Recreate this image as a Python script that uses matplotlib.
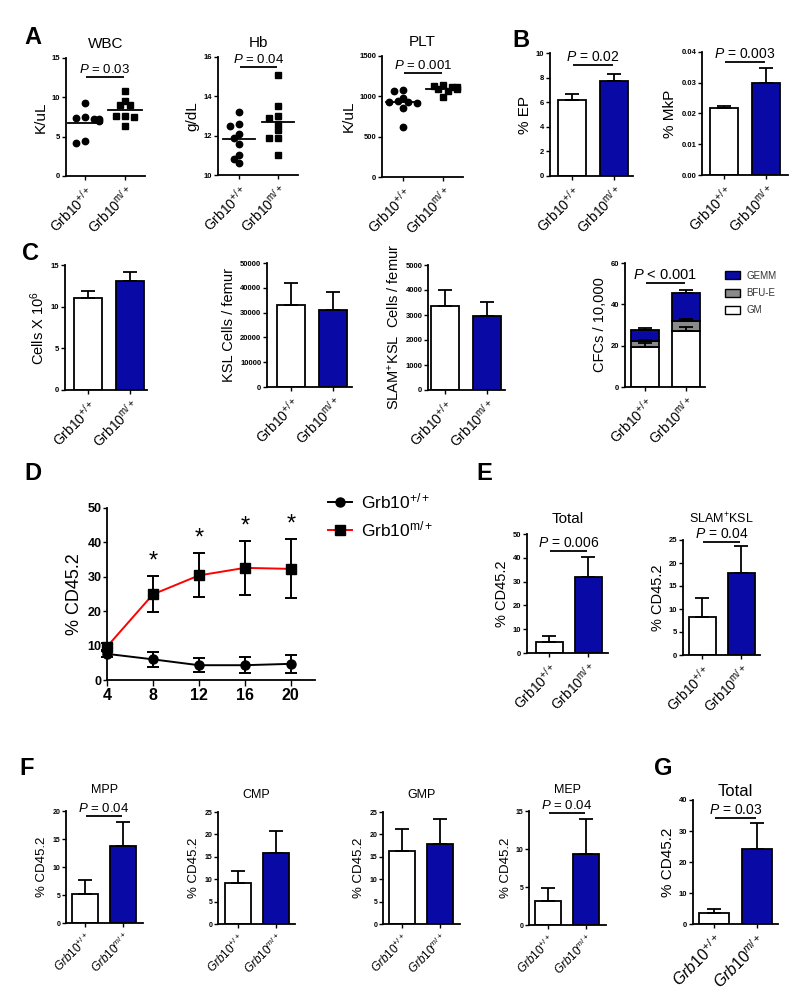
import matplotlib
matplotlib.use('Agg')
import matplotlib.pyplot as plt
from matplotlib.lines import Line2D
from matplotlib.patches import Patch
import numpy as np

plt.rcParams['font.family'] = ['Liberation Sans', 'DejaVu Sans']
plt.rcParams['mathtext.fontset'] = 'custom'
plt.rcParams['mathtext.rm'] = 'Liberation Sans'
plt.rcParams['mathtext.it'] = 'Liberation Sans:italic'
plt.rcParams['mathtext.bf'] = 'Liberation Sans:bold'

# ---------------- data ----------------
groups = [r'Grb10$^{\mathregular{+/+}}$', r'Grb10$^{\mathregular{m/+}}$']
groups_it = [r'$\mathit{Grb10^{+/+}}$', r'$\mathit{Grb10^{m/+}}$']

# Panel A (individual mice)
wbc_wt = [9.3, 7.5, 7.4, 7.3, 7.2, 7.0, 4.5, 4.2]
wbc_mut = [10.8, 9.5, 9.0, 9.0, 7.6, 7.6, 7.5, 6.3]
hb_wt = [13.2, 12.6, 12.5, 12.1, 11.9, 11.6, 11.0, 10.8, 10.6]
hb_mut = [15.1, 13.5, 13.0, 12.9, 12.6, 12.3, 11.9, 11.9, 11.0]
plt_wt = [1080, 1060, 985, 940, 930, 925, 915, 860, 620]
plt_mut = [1140, 1130, 1120, 1110, 1095, 1085, 1070, 990]

# Panel B
ep_mean = [6.2, 7.75]
ep_err = [0.45, 0.55]
mkp_mean = [0.0217, 0.0300]
mkp_err = [0.0007, 0.0048]

# Panel C
cells_mean = [11.0, 13.1]
cells_err = [0.9, 1.1]
ksl_mean = [33000, 31000]
ksl_err = [8800, 7300]
slam_mean = [3340, 2940]
slam_err = [660, 580]
cfc_gm = [19.5, 27.0]
cfc_gm_err = [1.7, 2.2]
cfc_bfu = [2.8, 5.0]
cfc_bfu_err = [0.5, 0.8]
cfc_gemm = [5.3, 13.5]
cfc_gemm_err = [1.0, 1.5]
cfc_names = ['GEMM', 'BFU-E', 'GM']

# Panel D
weeks = [4, 8, 12, 16, 20]
d_wt = [7.6, 6.0, 4.3, 4.3, 4.7]
d_wt_err = [1.0, 2.1, 2.0, 2.4, 2.6]
d_mut = [9.7, 24.9, 30.4, 32.6, 32.3]
d_mut_err = [1.2, 5.2, 6.4, 7.8, 8.6]

# Panel E
e_total = [4.6, 32.0]
e_total_err = [2.6, 8.4]
e_slam = [8.2, 17.9]
e_slam_err = [4.2, 5.7]

# Panel F
mpp = [5.2, 13.7]
mpp_err = [2.4, 4.4]
cmp_ = [9.2, 15.8]
cmp_err = [2.7, 5.0]
gmp = [16.3, 17.9]
gmp_err = [4.8, 5.5]
mep = [3.1, 9.4]
mep_err = [1.8, 4.6]

# Panel G
g_total = [3.5, 24.2]
g_total_err = [1.2, 8.4]

# ---------------- layout helpers ----------------
W, H = 800, 996
BLUE = '#0909a6'
LW = 1.3

fig = plt.figure(figsize=(W / 100, H / 100), dpi=100)


def px_axes(x0, ytop, x1, ybot):
    return fig.add_axes([x0 / W, 1 - ybot / H, (x1 - x0) / W, (ybot - ytop) / H])


def style(ax, yticks, ylim, ylabel, ysize=11, tsize=5.5, fmt=None, labelpad=3):
    for s in ['top', 'right']:
        ax.spines[s].set_visible(False)
    for s in ['left', 'bottom']:
        ax.spines[s].set_linewidth(LW)
    ax.set_ylim(*ylim)
    ax.set_yticks(yticks)
    if fmt:
        ax.set_yticklabels([fmt.format(v) for v in yticks])
    ax.tick_params(axis='y', length=3, width=1.0, pad=1, labelsize=tsize)
    ax.tick_params(axis='x', length=3, width=1.0, pad=2)
    for lab in ax.get_yticklabels():
        lab.set_fontweight('bold')
    ax.set_ylabel(ylabel, fontsize=ysize, labelpad=labelpad)


def set_cats(ax, x0, x1, c0, c1, labels, size=10):
    s = c1 - c0
    ax.set_xlim((x0 - c0) / s, (x1 - c0) / s)
    ax.set_xticks([0, 1])
    ax.set_xticklabels(labels, rotation=45, ha='right', rotation_mode='anchor', fontsize=size)
    return s


def sig(ax, y, text, size=9.5):
    ax.plot([0.03, 0.97], [y, y], color='black', lw=LW, clip_on=False, solid_capstyle='butt')
    ax.annotate(text, (0.5, y), xytext=(0, 0.8), textcoords='offset points',
                ha='center', va='bottom', fontsize=size, annotation_clip=False)


def bar_panel(box, cents, bw, vals, errs, ylim, yticks, ylabel, labels=groups,
              lsize=10, ysize=11, tsize=5.5, fmt=None, labelpad=3):
    x0, ytop, x1, ybot = box
    ax = px_axes(*box)
    s = set_cats(ax, x0, x1, cents[0], cents[1], labels, lsize)
    xs = np.arange(len(vals))
    ax.bar(xs, vals, width=bw / s, color=['white', BLUE], edgecolor='black',
           linewidth=LW, zorder=2)
    ax.errorbar(xs, vals, yerr=[np.zeros(len(errs)), errs], fmt='none', ecolor='black',
                elinewidth=LW, capsize=5, capthick=LW, zorder=3, clip_on=False)
    style(ax, yticks, ylim, ylabel, ysize, tsize, fmt, labelpad)
    return ax


def swarm(values, i, px_per_y, px_per_x, diam=5.6, step=4.6):
    placed = []
    cand = [0, -1, 1, -2, 2, -3, 3]
    order = np.argsort(values)[::-1]
    out = np.zeros(len(values))
    for k in order:
        ypx = values[k] * px_per_y
        for c in cand:
            xpx = c * step
            if all((xpx - a) ** 2 + (ypx - b) ** 2 >= diam ** 2 for a, b in placed):
                break
        placed.append((xpx, ypx))
        out[k] = i + xpx / px_per_x
    return out


def scatter_panel(box, cents, wt, mut, ylim, yticks, ylabel, title, pline, ptext):
    x0, ytop, x1, ybot = box
    ax = px_axes(*box)
    s = set_cats(ax, x0, x1, cents[0], cents[1], groups, 10)
    py = (ybot - ytop) / (ylim[1] - ylim[0])
    for i, (vals, m) in enumerate([(wt, 'o'), (mut, 's')]):
        xs = swarm(np.array(vals, float), i, py, s)
        ax.plot(xs, vals, linestyle='none', marker=m, color='black', ms=4.6, clip_on=False)
        mv = np.mean(vals)
        ax.plot([i - 0.42, i + 0.42], [mv, mv], color='black', lw=LW)
    style(ax, yticks, ylim, ylabel, 11, 5.5)
    ax.set_title(title, fontsize=11, pad=7)
    sig(ax, pline, ptext)
    return ax


# ---------------- Panel A ----------------
scatter_panel((66, 58, 145, 176), (85, 125), wbc_wt, wbc_mut, (0, 15), [0, 5, 10, 15],
              'K/uL', 'WBC', 12.6, r'$P$ = 0.03')
scatter_panel((218, 57, 298, 175), (239, 278), hb_wt, hb_mut, (10, 16), [10, 12, 14, 16],
              'g/dL', 'Hb', 15.5, r'$P$ = 0.04')
scatter_panel((382, 56, 463, 177), (403, 443), plt_wt, plt_mut, (0, 1500), [0, 500, 1000, 1500],
              'K/uL', 'PLT', 1289, r'$P$ = 0.001')

# ---------------- Panel B ----------------
ax = bar_panel((550, 53, 633, 176), (572, 614), 28, ep_mean, ep_err, (0, 10),
               [0, 2, 4, 6, 8, 10], '% EP')
sig(ax, 9.0, r'$P$ = 0.02', 10)
ax = bar_panel((702, 52, 788, 175), (724, 766), 28, mkp_mean, mkp_err, (0, 0.04),
               [0, 0.01, 0.02, 0.03, 0.04], '% MkP', fmt='{:.2f}')
sig(ax, 0.0367, r'$P$ = 0.003', 10)

# ---------------- Panel C ----------------
bar_panel((65, 265, 147, 390), (88, 130), 28, cells_mean, cells_err, (0, 15),
          [0, 5, 10, 15], r'Cells X 10$^{\mathregular{6}}$', ysize=10.5)
bar_panel((267, 263, 352, 387), (291, 333), 28, ksl_mean, ksl_err, (0, 50000),
          list(range(0, 50001, 10000)), 'KSL Cells / femur', ysize=10.5)
bar_panel((428, 265, 505, 390), (445, 487), 28, slam_mean, slam_err, (0, 5000),
          list(range(0, 5001, 1000)), r'SLAM$^{\mathregular{+}}$KSL  Cells / femur', ysize=10.5)

# CFC stacked
box = (625, 263, 705, 387)
axc = px_axes(*box)
s = set_cats(axc, box[0], box[2], 645, 686, groups, 10)
xs = np.arange(2)
bw = 28 / s
gm = np.array(cfc_gm)
bfu = np.array(cfc_bfu)
gemm = np.array(cfc_gemm)
segs = [(gm, np.zeros(2), 'white', cfc_gm_err),
        (bfu, gm, '#8a8a8a', cfc_bfu_err),
        (gemm, gm + bfu, BLUE, cfc_gemm_err)]
for h, b, c, e in segs:
    axc.bar(xs, h, bottom=b, width=bw, color=c, edgecolor='black', linewidth=LW, zorder=2)
for h, b, c, e in segs:
    axc.errorbar(xs, b + h, yerr=[np.zeros(2), e], fmt='none', ecolor='black',
                 elinewidth=LW, capsize=5, capthick=LW, zorder=3)
style(axc, [0, 20, 40, 60], (0, 60), 'CFCs / 10,000', 10.5)
sig(axc, 50.3, r'$P$ < 0.001', 10.5)
handles = [Patch(facecolor=BLUE, edgecolor='black', lw=1.0),
           Patch(facecolor='#8a8a8a', edgecolor='black', lw=1.0),
           Patch(facecolor='white', edgecolor='black', lw=1.0)]
fig.legend(handles, cfc_names, loc='upper left', bbox_to_anchor=(716 / W, 1 - 262 / H),
           frameon=False, fontsize=7, handlelength=1.6, handleheight=0.9,
           labelspacing=0.75, handletextpad=0.6, labelcolor='#333333')

# ---------------- Panel D ----------------
axd = px_axes(107, 508, 315, 680)
axd.errorbar(weeks, d_wt, yerr=d_wt_err, color='black', marker='o', ms=6.5, lw=1.4,
             elinewidth=1.4, capsize=4, capthick=1.4, clip_on=False, zorder=3)
axd.errorbar(weeks, d_mut, yerr=d_mut_err, color='red', ecolor='black', marker='s',
             mfc='black', mec='black', ms=6.5, lw=1.4, elinewidth=1.4, capsize=4,
             capthick=1.4, clip_on=False, zorder=3)
for w, m, e in zip(weeks[1:], d_mut[1:], d_mut_err[1:]):
    axd.text(w, m + e + 4.2, '*', ha='center', va='center', fontsize=17)
axd.set_xlim(4, 22.1)
style(axd, [0, 10, 20, 30, 40, 50], (0, 50), '% CD45.2', 13, 9)
axd.set_xticks(weeks)
axd.tick_params(axis='x', labelsize=11.5, length=4)
for lab in axd.get_xticklabels():
    lab.set_fontweight('bold')
dh = [Line2D([], [], color='black', marker='o', ms=6.5, lw=1.4),
      Line2D([], [], color='red', marker='s', mfc='black', mec='black', ms=6.5, lw=1.4)]
fig.legend(dh, groups, loc='upper left', bbox_to_anchor=(312 / W, 1 - 476 / H),
           frameon=False, fontsize=12.5, handlelength=1.4, labelspacing=0.45,
           handletextpad=0.5)

# ---------------- Panel E ----------------
ax = bar_panel((527, 534, 608, 653), (549, 588), 27, e_total, e_total_err, (0, 50),
               [0, 10, 20, 30, 40, 50], '% CD45.2', ysize=10.5)
ax.set_title('Total', fontsize=11, pad=8)
sig(ax, 42.9, r'$P$ = 0.006', 10)
ax = bar_panel((683, 540, 760, 655), (702, 741), 27, e_slam, e_slam_err, (0, 25),
               [0, 5, 10, 15, 20, 25], '% CD45.2', ysize=10.5)
ax.set_title(r'SLAM$^{\mathregular{+}}$KSL', fontsize=9, pad=12)
sig(ax, 24.6, r'$P$ = 0.04', 10)

# ---------------- Panel F ----------------
fpanels = [((66, 811, 143, 923), (85, 123), mpp, mpp_err, (0, 20), [0, 5, 10, 15, 20], 'MPP', 19.1),
           ((218, 812, 295, 924), (238, 276), cmp_, cmp_err, (0, 25), [0, 5, 10, 15, 20, 25], 'CMP', None),
           ((383, 812, 460, 924), (402, 440), gmp, gmp_err, (0, 25), [0, 5, 10, 15, 20, 25], 'GMP', None),
           ((529, 811, 606, 925), (548, 586), mep, mep_err, (0, 15), [0, 5, 10, 15], 'MEP', 14.7)]
for box, cents, v, e, yl, yt, title, pl in fpanels:
    ax = bar_panel(box, cents, 26, v, e, yl, yt, '% CD45.2', labels=groups_it, lsize=8.5,
                   ysize=9.5, tsize=5)
    ax.set_title(title, fontsize=9, pad=13 if pl else 10)
    if pl:
        sig(ax, pl, r'$P$ = 0.04', 9.5)

# ---------------- Panel G ----------------
ax = bar_panel((693, 800, 778, 924), (714, 757), 30, g_total, g_total_err, (0, 40),
               [0, 10, 20, 30, 40], '% CD45.2', labels=groups_it, lsize=11.5, ysize=11)
ax.set_title('Total', fontsize=12, pad=3)
sig(ax, 34.2, r'$P$ = 0.03', 10)

# ---------------- panel letters ----------------
for letter, x, y in [('A', 24, 37), ('B', 512, 40), ('C', 22, 253), ('D', 24, 473),
                     ('E', 476, 473), ('F', 19, 768), ('G', 654, 768)]:
    fig.text(x / W, 1 - y / H, letter, fontsize=17, fontweight='bold', ha='left', va='center')

fig.savefig('out.png', dpi=100, facecolor='white')
